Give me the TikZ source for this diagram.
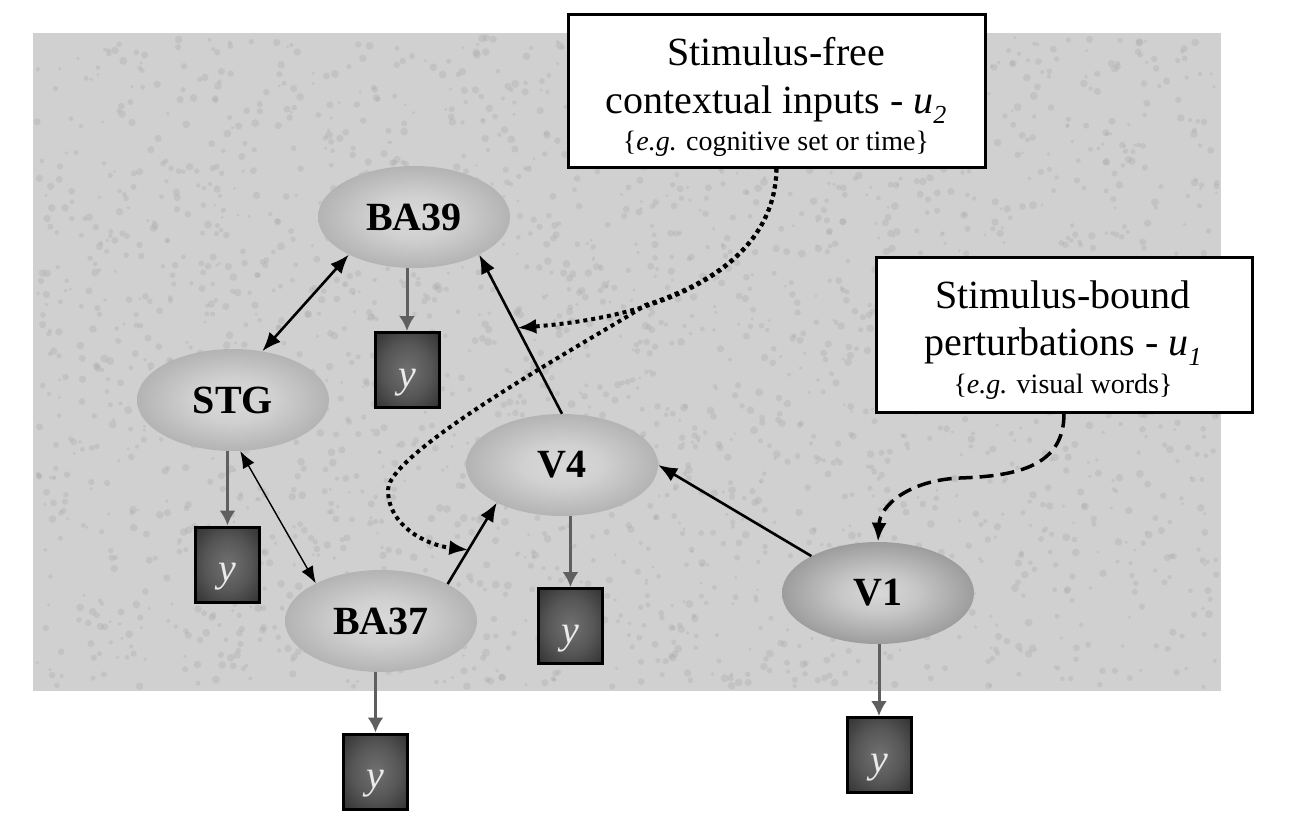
\documentclass[tikz,border=0pt]{standalone}
\usepackage{fontspec}
\setmainfont{Liberation Serif}
\usetikzlibrary{shapes.geometric,arrows.meta,calc}
\definecolor{bgc}{RGB}{208,208,208}
\definecolor{speck}{RGB}{172,172,172}
\definecolor{garrow}{RGB}{95,95,95}
\pgfdeclareradialshading{ellsh}{\pgfpoint{0bp}{0bp}}{color(0bp)=(black!15); color(10bp)=(black!18); color(50bp)=(black!49)}
\pgfdeclareradialshading{vonesh}{\pgfpoint{0bp}{0bp}}{color(0bp)=(black!15); color(10bp)=(black!22); color(50bp)=(black!66)}
\pgfdeclareradialshading{ysh}{\pgfpoint{0bp}{0bp}}{color(0bp)=(black!56); color(18bp)=(black!66); color(50bp)=(black!93)}
\begin{document}
\begin{tikzpicture}[x=1pt,y=-1pt,
  area/.style={ellipse, minimum width=192pt, minimum height=102pt, inner sep=0pt, shading=ellsh, font=\fontsize{40}{48}\selectfont\bfseries},
  obs/.style={rectangle, minimum width=64pt, minimum height=75pt, inner sep=0pt, draw=black, line width=3pt, shading=ysh, text=black!8, font=\fontsize{40}{48}\selectfont\itshape, text height=40pt, text depth=6pt},
  infobox/.style={rectangle, draw=black, line width=3pt, fill=white, inner sep=0pt},
  bigline/.style={anchor=base, font=\fontsize{40}{48}\selectfont, inner sep=0pt},
  smallline/.style={anchor=base, font=\fontsize{28}{34}\selectfont, inner sep=0pt},
  conn/.style={line width=2.6pt, -{Latex[length=19pt,width=15pt]}},
  both/.style={line width=2.6pt, {Latex[length=19pt,width=15pt]}-{Latex[length=19pt,width=15pt]}},
  thinboth/.style={line width=1.4pt, {Latex[length=17pt,width=13pt]}-{Latex[length=17pt,width=13pt]}},
  outp/.style={draw=garrow, line width=3pt, -{Latex[length=15pt,width=16pt]}},
  dotline/.style={line width=4pt, dash pattern=on 4pt off 4pt, -{Latex[length=19pt,width=15pt]}},
  dashline/.style={line width=3.5pt, dash pattern=on 14pt off 7pt, -{Latex[length=19pt,width=15pt]}},
]
\useasboundingbox (0,0) rectangle (1297,816);
\fill[white] (0,0) rectangle (1297,816);
% textured background
\fill[bgc] (33,33) rectangle (1221,691);
\pgfmathsetseed{7}
\foreach \k in {1,...,2600}{
  \pgfmathsetmacro\px{37+1180*rnd}
  \pgfmathsetmacro\py{37+650*rnd}
  \pgfmathsetmacro\pr{1.5+2.5*rnd}
  \fill[speck, opacity=0.35] (\px,\py) circle[radius=\pr];
}
% info boxes
\node[infobox, minimum width=417pt, minimum height=152pt] (u2box) at (776.5,91) {};
\node[bigline] (u2a) at (776,65) {Stimulus-free};
\node[bigline] (u2b) at (776,113) {contextual inputs - \textit{u}\raisebox{-10pt}{\fontsize{26}{26}\selectfont\itshape 2}};
\node[smallline] (u2c) at (776,150) {\{\textit{e.g.} cognitive set or time\}};
\node[infobox, minimum width=376pt, minimum height=155pt] (u1box) at (1064,334.5) {};
\node[bigline] (u1a) at (1063,308) {Stimulus-bound};
\node[bigline] (u1b) at (1063,355) {perturbations - \textit{u}\raisebox{-10pt}{\fontsize{26}{26}\selectfont\itshape 1}};
\node[smallline] (u1c) at (1063,393) {\{\textit{e.g.} visual words\}};
% areas
\node[area] (ba39) at (414,217) {BA39};
\node[area] (stg) at (233,400) {STG};
\node[area] (v4) at (562,465) {V4};
\node[area] (ba37) at (381,621) {BA37};
\node[area, shading=vonesh] (v1) at (878,593) {V1};
% observations
\node[obs] (y39) at (407,370) {y};
\node[obs] (ystg) at (227.5,564.5) {y};
\node[obs] (yv4) at (570.5,626) {y};
\node[obs] (y37) at (375.5,771.5) {y};
\node[obs] (yv1) at (879,755) {y};
% connections
\draw[both] (ba39.210) -- (stg.59);
\draw[outp] (y39.north |- ba39.south) -- (y39.north);
\draw[conn] (v4.north) -- (ba39.-30);
\coordinate (hit1) at ($(v4.north)!0.54!(ba39.-30)$);
\draw[outp] (ystg.north |- stg.south) -- (ystg.north);
\draw[thinboth] (stg.-82) -- (ba37.150);
\draw[conn] (ba37.29) -- (v4.210);
\coordinate (hit2) at ($(ba37.29)!0.42!(v4.210)$);
\draw[outp] (yv4.north |- v4.south) -- (yv4.north);
\draw[outp] (y37.north |- ba37.south) -- (y37.north);
\draw[conn] (v1.151) -- (v4.east);
\draw[outp] (yv1.north |- v1.south) -- (yv1.north);
% inputs
\coordinate (split) at (645.4,305.1);
\draw[dotline] (u2box.south) .. controls (775,260) and (680,315) .. (hit1);
\draw[dotline] (u2box.south) .. controls (775.6,232.4) and (728.6,278.5) .. (split)
  .. controls (600,335) and (388,450) .. (388,490)
  .. controls (388,525) and (425,545) .. (hit2);
\draw[dashline] (u1box.south) .. controls (1064,465) and (1020,476) .. (960,478)
  .. controls (910,480) and (880,505) .. (v1.north);
\end{tikzpicture}
\end{document}
